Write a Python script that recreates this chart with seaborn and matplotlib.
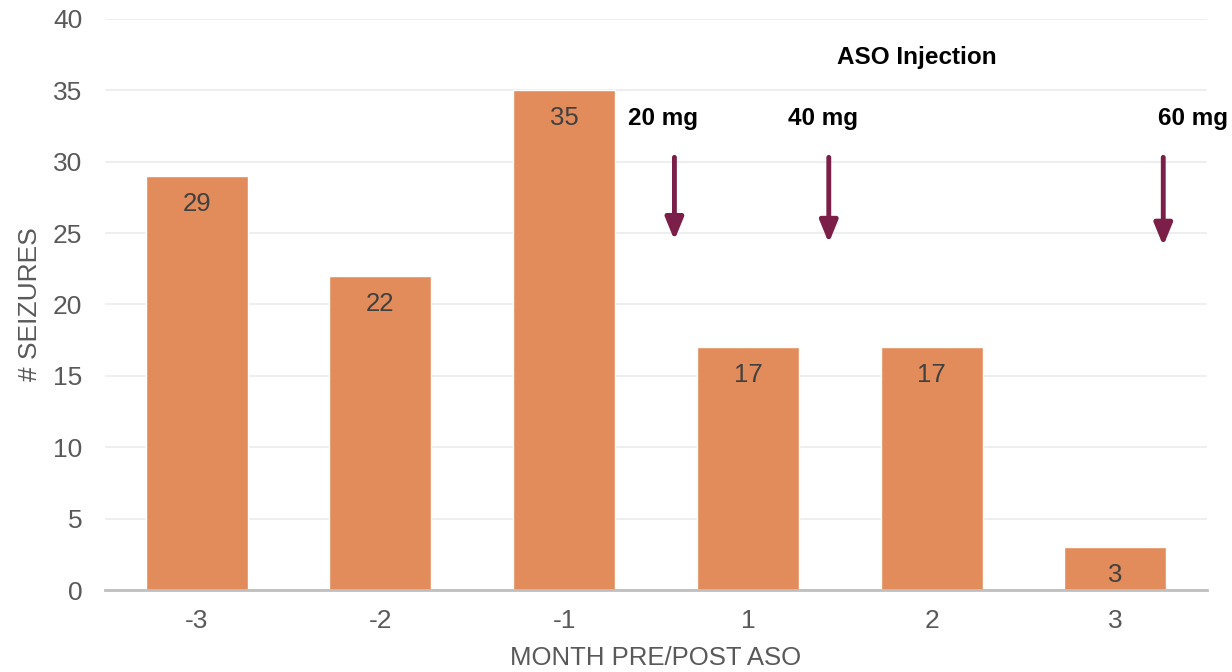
import numpy as np
import pandas as pd
import matplotlib
matplotlib.use("Agg")
import matplotlib.pyplot as plt
import seaborn as sns

months = ["-3", "-2", "-1", "1", "2", "3"]
seizures = [29, 22, 35, 17, 17, 3]

doses = ["20 mg", "40 mg", "60 mg"]
dose_x = [2.60, 3.44, 5.26]
dose_label_x = [2.54, 3.41, 5.42]
arrow_tip = [24.5, 24.3, 24.1]

bar_color = "#E28C5B"
arrow_color = "#7B1E48"
grey = "#595959"

sns.set_theme(style="white")
plt.rcParams["font.family"] = ["Liberation Sans", "DejaVu Sans"]

df = pd.DataFrame({"month": months, "seizures": seizures})

fig = plt.figure(figsize=(12.32, 6.72), dpi=100)
ax = fig.add_axes([0.085, 0.122, 0.895, 0.85])

sns.barplot(data=df, x="month", y="seizures", order=months, color=bar_color,
            saturation=1, width=0.555, ax=ax)

for i, v in enumerate(seizures):
    ax.annotate(str(v), (i, v), xytext=(0, -20), textcoords="offset points",
                ha="center", va="center", fontsize=18.5, color="#404040")

ax.set_ylim(0, 40)
ax.set_xlim(-0.5, 5.5)
ax.set_yticks(np.arange(0, 41, 5))
ax.yaxis.grid(True, color="#EBEBEB", linewidth=1.2)
ax.set_axisbelow(True)
for s in ["top", "right", "left"]:
    ax.spines[s].set_visible(False)
ax.spines["bottom"].set_color("#BFBFBF")
ax.spines["bottom"].set_linewidth(2)
ax.tick_params(axis="both", length=0, labelsize=19, labelcolor=grey, pad=14)
ax.tick_params(axis="y", pad=16)

ax.set_xlabel("MONTH PRE/POST ASO", fontsize=18.5, color=grey, labelpad=9)
ax.set_ylabel("# SEIZURES", fontsize=19, color=grey, labelpad=8)

for lab, lx, ax_x, tip in zip(doses, dose_label_x, dose_x, arrow_tip):
    ax.text(lx, 33.0, lab, ha="center", va="center", fontsize=17.5,
            fontweight="bold", color="black", clip_on=False)
    ax.annotate("", xy=(ax_x, tip), xytext=(ax_x, 30.3),
                arrowprops=dict(arrowstyle="-|>,head_width=0.45,head_length=1.1",
                                color=arrow_color, lw=3.5, shrinkA=0, shrinkB=0))

ax.text(3.92, 37.3, "ASO Injection", ha="center", va="center", fontsize=17.5,
        fontweight="bold", color="black")

fig.savefig("out.png", dpi=100)
